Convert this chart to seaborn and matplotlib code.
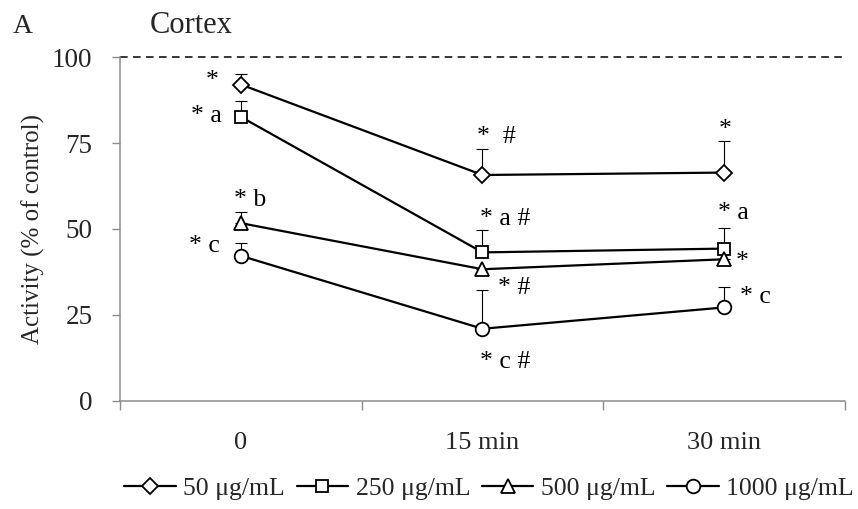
import numpy as np
import pandas as pd
import matplotlib
matplotlib.use("Agg")
import matplotlib.pyplot as plt
import seaborn as sns

# ---- data -------------------------------------------------------------
times = ["0", "15 min", "30 min"]
doses = ["50 μg/mL", "250 μg/mL", "500 μg/mL", "1000 μg/mL"]

act_50 = [92.0, 65.7, 66.4]
act_250 = [82.6, 43.2, 44.3]
act_500 = [51.7, 38.3, 41.2]
act_1000 = [42.2, 21.0, 27.2]

sem_50 = [3.1, 7.5, 9.2]
sem_250 = [4.6, 6.4, 5.9]
sem_500 = [3.3, np.nan, np.nan]
sem_1000 = [3.7, 11.2, 5.8]

sig_50 = ["*", "*  #", "*"]
sig_250 = ["* a", "* a #", "* a"]
sig_500 = ["* b", "* #", "*"]
sig_1000 = ["* c", "* c #", "* c"]

activity = [act_50, act_250, act_500, act_1000]
sems = [sem_50, sem_250, sem_500, sem_1000]
sigs = [sig_50, sig_250, sig_500, sig_1000]

# ---- styling ------------------------------------------------------------
markers = {doses[0]: "D", doses[1]: "s", doses[2]: "^", doses[3]: "o"}
marker_sizes = [8.0, 9.2, 9.6, 9.8]
# label offsets (points) and alignment relative to each point
sig_offsets = [
    [(-16, -2, "right"), (-3.6, 23, "left"), (0.7, 26.6, "center")],
    [(-14, -4, "right"), (-2, 19.4, "left"), (-4.3, 21.6, "left")],
    [(-5, 12, "left"), (11.5, -18, "left"), (8.6, -6.5, "left")],
    [(-15, 3, "right"), (-2, -28, "left"), (11.5, 2.9, "left")],
]

sns.set_style("white")
plt.rcParams["font.family"] = ["Liberation Serif", "DejaVu Serif"]
plt.rcParams["mathtext.default"] = "regular"

pos = np.arange(len(times))
df = pd.DataFrame(
    {
        "pos": np.tile(pos, len(doses)),
        "time": np.tile(times, len(doses)),
        "dose": np.repeat(doses, len(times)),
        "activity": np.concatenate(activity),
        "sem": np.concatenate(sems),
    }
)

fig = plt.figure(figsize=(8.58, 5.09), dpi=100)
ax = fig.add_axes([0.1399, 0.2122, 0.8449, 0.6758])

# upward-only error bars
for d in doses:
    sub = df[df["dose"] == d]
    ax.errorbar(
        sub["pos"], sub["activity"],
        yerr=[np.zeros(len(sub)), sub["sem"].values],
        fmt="none", ecolor="black", elinewidth=0.8, capsize=4.3, capthick=0.8,
        zorder=2,
    )

sns.lineplot(
    data=df, x="pos", y="activity", style="dose", style_order=doses,
    markers=markers, dashes=False, color="black", linewidth=1.6,
    sort=False, errorbar=None, legend=False, ax=ax, zorder=3,
)

data_lines = [ln for ln in ax.lines if ln.get_marker() in ("D", "s", "^", "o")]
for ln, ms in zip(data_lines, marker_sizes):
    ln.set_markersize(ms)
    ln.set_markerfacecolor("white")
    ln.set_markeredgecolor("black")
    ln.set_markeredgewidth(1.3)
    ln.set_color("black")
    ln.set_zorder(3)

# significance marks
for vals, labels, offs in zip(activity, sigs, sig_offsets):
    for i, (v, lab, (dx, dy, ha)) in enumerate(zip(vals, labels, offs)):
        ax.annotate(lab, xy=(pos[i], v), xytext=(dx, dy), textcoords="offset points",
                    ha=ha, va="baseline", fontsize=18.5, color="black")

# control level
ax.axhline(100, color="black", linewidth=1.1, linestyle=(0, (5, 3.5)), clip_on=False, zorder=1)

ax.set_xlim(-0.5, len(times) - 0.5)
ax.set_ylim(0, 100)
ax.set_yticks([0, 25, 50, 75, 100])
ax.set_xticks(pos)
ax.set_xticklabels(times)
ax.set_xticks(np.arange(len(times) + 1) - 0.5, minor=True)
ax.tick_params(axis="x", which="major", bottom=False, pad=19, labelsize=19)
ax.tick_params(axis="x", which="minor", bottom=True, direction="out", length=6.5,
               width=1.0, color="#8c8c8c")
ax.tick_params(axis="y", left=True, direction="out", length=5.8, width=1.0,
               color="#8c8c8c", pad=14, labelsize=19.5)
ax.set_xlabel("")
ax.set_ylabel("Activity (% of control)", fontsize=18, labelpad=5)

for side in ("top", "right"):
    ax.spines[side].set_visible(False)
for side in ("left", "bottom"):
    ax.spines[side].set_color("#8c8c8c")
    ax.spines[side].set_linewidth(1.1)

fig.text(0.015, 0.935, "A", fontsize=20, va="baseline")
fig.text(0.175, 0.935, "Cortex", fontsize=22, va="baseline")

fig.legend(
    data_lines, doses, loc="center", bbox_to_anchor=(0.570, 0.041), ncol=4,
    frameon=False, fontsize=18.5, handlelength=2.0, handletextpad=0.3,
    columnspacing=0.45, borderaxespad=0, numpoints=1,
)

fig.savefig("out.png", dpi=100)
